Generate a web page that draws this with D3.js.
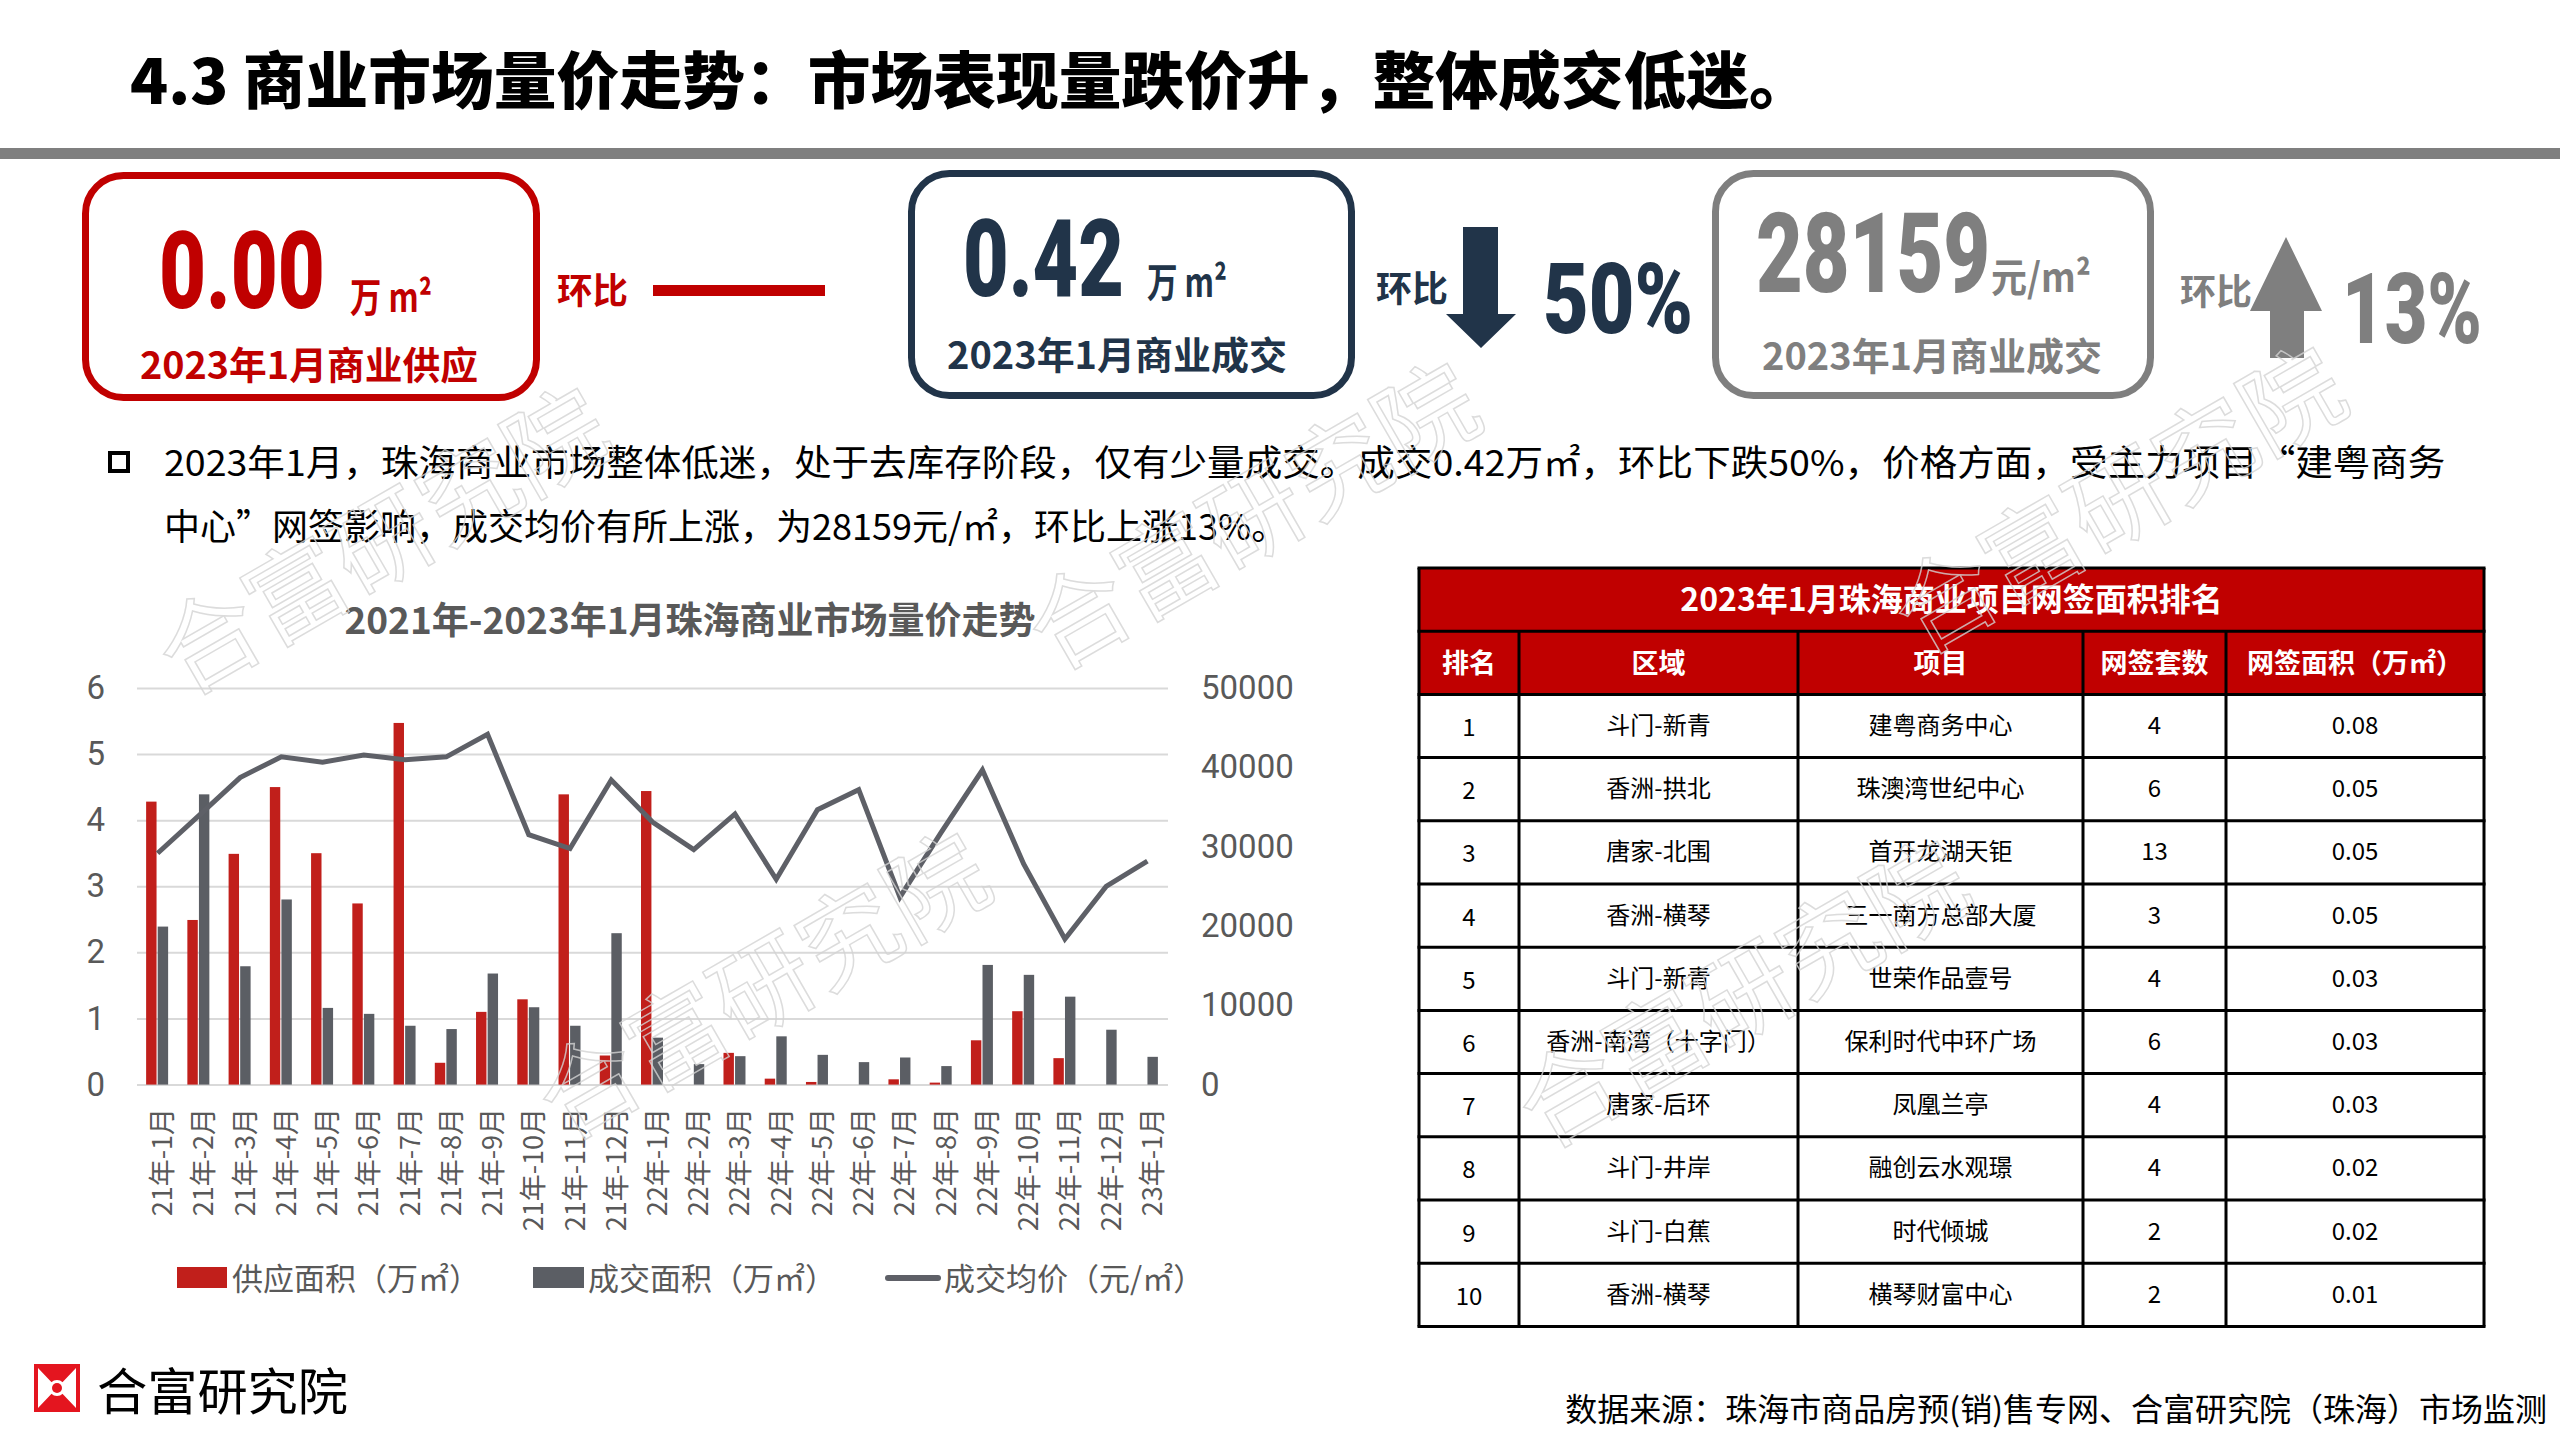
<!DOCTYPE html>
<html><head><meta charset="utf-8">
<script src="https://cdn.jsdelivr.net/npm/d3@7"></script>
<style>html,body{margin:0;padding:0;background:#fff;} svg{display:block;}</style>
</head><body>
<svg id="c" width="2560" height="1440"></svg>
<script>
// ---------- data ----------
const categories = ["21年-1月","21年-2月","21年-3月","21年-4月","21年-5月","21年-6月","21年-7月","21年-8月","21年-9月","21年-10月","21年-11月","21年-12月",
  "22年-1月","22年-2月","22年-3月","22年-4月","22年-5月","22年-6月","22年-7月","22年-8月","22年-9月","22年-10月","22年-11月","22年-12月","23年-1月"];
const supplyArea = [4.28,2.49,3.49,4.50,3.50,2.74,5.47,0.33,1.10,1.29,4.39,0.44,4.44,0,0.48,0.09,0.04,0,0.08,0.03,0.67,1.11,0.40,0,0];
const dealArea   = [2.39,4.39,1.79,2.80,1.16,1.07,0.89,0.84,1.68,1.17,0.89,2.29,0.71,0.31,0.43,0.73,0.45,0.34,0.41,0.28,1.81,1.66,1.33,0.83,0.42];
const avgPrice   = [29160,33900,38700,41310,40640,41540,40950,41310,44150,31500,29750,38390,33100,29610,34110,25880,34650,37170,23630,31800,39650,27810,18360,24980,28159];
const leftTicks  = [0,1,2,3,4,5,6];
const rightTicks = [0,10000,20000,30000,40000,50000];
const legendLabels = ["供应面积（万㎡）","成交面积（万㎡）","成交均价（元/㎡）"];
const chartTitle = "2021年-2023年1月珠海商业市场量价走势";

const tableTitle   = "2023年1月珠海商业项目网签面积排名";
const tableHeaders = ["排名","区域","项目","网签套数","网签面积（万㎡）"];
const ranks        = [1,2,3,4,5,6,7,8,9,10];
const districts    = ["斗门-新青","香洲-拱北","唐家-北围","香洲-横琴","斗门-新青","香洲-南湾（十字门）","唐家-后环","斗门-井岸","斗门-白蕉","香洲-横琴"];
const projects     = ["建粤商务中心","珠澳湾世纪中心","首开龙湖天钜","三一南方总部大厦","世荣作品壹号","保利时代中环广场","凤凰兰亭","融创云水观璟","时代倾城","横琴财富中心"];
const unitCounts   = [4,6,13,3,4,6,4,4,2,2];
const signedAreas  = ["0.08","0.05","0.05","0.05","0.03","0.03","0.03","0.02","0.02","0.01"];

const pageTitle = "4.3 商业市场量价走势：市场表现量跌价升，整体成交低迷。";
const bulletLines = ["2023年1月，珠海商业市场整体低迷，处于去库存阶段，仅有少量成交。成交0.42万㎡，环比下跌50%，价格方面，受主力项目“建粤商务",
                     "中心”网签影响，成交均价有所上涨，为28159元/㎡，环比上涨13%。"];
const kpiValues = ["0.00","0.42","28159"];
const kpiUnits = ["万 m²","万 m²","元/m²"];
const kpiChanges = ["50%","13%"];
const kpiLabels = ["2023年1月商业供应","2023年1月商业成交","2023年1月商业成交"];
const sourceText = "数据来源：珠海市商品房预(销)售专网、合富研究院（珠海）市场监测";
const brandName = "合富研究院";

// ---------- style ----------
const CJK = "'Noto Sans CJK SC','Noto Sans',sans-serif";
const NUM = "Roboto,'Noto Sans',sans-serif";
const RED = "#C00000", NAVY = "#213449", GRAY = "#7F7F7F";
const BAR_RED = "#C11F1B", BAR_GRAY = "#5B5E64", LINE_GRAY = "#5E6067", AXIS = "#595959";

const svg = d3.select("#c");
svg.append("rect").attr("width",2560).attr("height",1440).attr("fill","#fff");

// text helper: optional exact width via horizontal scale transform
function txt(s,x,y,size,color,opts={}){
  const t = svg.append("text").text(s).attr("font-size",size).attr("fill",color)
    .attr("font-family",opts.family||CJK).attr("font-weight",opts.weight||400);
  if(opts.anchor) t.attr("text-anchor",opts.anchor);
  if(opts.len){
    const natural = t.node().getComputedTextLength() || opts.len;
    t.attr("x",0).attr("y",0).attr("transform",`translate(${x},${y}) scale(${opts.len/natural},1)`);
  } else {
    t.attr("x",x).attr("y",y);
  }
  return t;
}

// ---------- header ----------
txt(pageTitle,130,104,62,"#000",{weight:900,len:1682});
svg.append("rect").attr("x",0).attr("y",148).attr("width",2560).attr("height",11).attr("fill","#7F7F7F");

// ---------- KPI boxes ----------
function box(x,y,w,h,color){
  svg.append("rect").attr("x",x).attr("y",y).attr("width",w).attr("height",h).attr("rx",38).attr("ry",38)
    .attr("fill","none").attr("stroke",color).attr("stroke-width",7);
}
// box 1
box(85.5,175.5,451,222,RED);
txt(kpiValues[0],159,308,108,RED,{weight:900,family:NUM,len:166});
txt(kpiUnits[0],350,312,40,RED,{weight:700,len:82});
txt(kpiLabels[0],140,379,38,RED,{weight:700,len:338});
txt("环比",557,304,36,RED,{weight:700,len:71});
svg.append("rect").attr("x",653).attr("y",285).attr("width",172).attr("height",11).attr("fill",RED);
// box 2
box(911.5,173.5,440,222,NAVY);
txt(kpiValues[1],963,296,107,NAVY,{weight:900,family:NUM,len:161});
txt(kpiUnits[1],1147,297,40,NAVY,{weight:700,len:80});
txt(kpiLabels[1],947,369,38,NAVY,{weight:700,len:340});
txt("环比",1376,302,36,NAVY,{weight:700,len:72});
svg.append("path").attr("d","M1463,227 L1498,227 L1498,314 L1516,314 L1481,348 L1446,314 L1463,314 Z").attr("fill",NAVY);
txt(kpiChanges[0],1543,333,98,NAVY,{weight:900,family:NUM,len:150});
// box 3
box(1715.5,173.5,435,222,GRAY);
txt(kpiValues[2],1756,292,111,GRAY,{weight:900,family:NUM,len:234});
txt(kpiUnits[2],1991,292,40,GRAY,{weight:700,len:100});
txt(kpiLabels[2],1762,370,38,GRAY,{weight:700,len:340});
txt("环比",2180,305,36,GRAY,{weight:700,len:72});
svg.append("path").attr("d","M2286,237 L2322,311 L2304,311 L2304,358 L2270,358 L2270,311 L2250,311 Z").attr("fill",GRAY);
txt(kpiChanges[1],2342,343,98,GRAY,{weight:900,family:NUM,len:140});

// ---------- bullet text ----------
svg.append("rect").attr("x",110).attr("y",453).attr("width",18).attr("height",18)
  .attr("fill","none").attr("stroke","#000").attr("stroke-width",4);
txt(bulletLines[0],164,476,36,"#000",{len:2282});
txt(bulletLines[1],164,540,36,"#000");

// ---------- chart ----------
const plotL = 137, plotR = 1168, y0 = 1084.6, y6 = 687.9;
const x = d3.scaleBand().domain(categories).range([plotL,plotR]).padding(0);
const yL = d3.scaleLinear().domain([0,6]).range([y0,y6]);
const yR = d3.scaleLinear().domain([0,50000]).range([y0,y6]);
const sub = d3.scaleBand().domain(["supply","deal"]).range([-11.5,10.5]).paddingInner(0.1);
const cx = d => x(d) + x.bandwidth()/2;

txt(chartTitle,690,634,37,AXIS,{weight:700,anchor:"middle"});

// gridlines
const grid = svg.append("g").attr("transform",`translate(${plotL},0)`)
  .call(d3.axisLeft(yL).tickValues(leftTicks).tickSize(-(plotR-plotL)).tickFormat(""));
grid.select(".domain").remove();
grid.selectAll("line").attr("stroke","#D9D9D9").attr("stroke-width",2);

// axes labels
const axL = svg.append("g").attr("transform","translate(105,0)")
  .call(d3.axisLeft(yL).tickValues(leftTicks).tickSize(0).tickPadding(0).tickFormat(d3.format("d")));
axL.select(".domain").remove();
axL.selectAll("text").style("font-family",NUM).style("font-size","33px").attr("fill",AXIS);
const axR = svg.append("g").attr("transform","translate(1201,0)")
  .call(d3.axisRight(yR).tickValues(rightTicks).tickSize(0).tickPadding(0).tickFormat(d3.format("d")));
axR.select(".domain").remove();
axR.selectAll("text").style("font-family",NUM).style("font-size","33px").attr("fill",AXIS);

// bars
svg.append("g").selectAll("rect").data(categories).join("rect")
  .attr("x",d=>cx(d)+sub("supply")).attr("width",sub.bandwidth())
  .attr("y",(d,i)=>yL(supplyArea[i])).attr("height",(d,i)=>yL(0)-yL(supplyArea[i]))
  .attr("fill",BAR_RED);
svg.append("g").selectAll("rect").data(categories).join("rect")
  .attr("x",d=>cx(d)+sub("deal")).attr("width",sub.bandwidth())
  .attr("y",(d,i)=>yL(dealArea[i])).attr("height",(d,i)=>yL(0)-yL(dealArea[i]))
  .attr("fill",BAR_GRAY);
// line
svg.append("path").datum(avgPrice)
  .attr("d",d3.line().x((d,i)=>cx(categories[i])).y(d=>yR(d)))
  .attr("fill","none").attr("stroke",LINE_GRAY).attr("stroke-width",5).attr("stroke-linejoin","miter");

// x labels
svg.append("g").selectAll("text").data(categories).join("text")
  .text(d=>d)
  .attr("transform",d=>`translate(${cx(d)+3},1108) rotate(-90)`)
  .attr("text-anchor","end").attr("dominant-baseline","central")
  .attr("font-family",CJK).attr("font-size",27).attr("fill",AXIS);

// legend
const lg = svg.append("g");
lg.append("rect").attr("x",177).attr("y",1267).attr("width",50).attr("height",21).attr("fill",BAR_RED);
lg.append("rect").attr("x",533).attr("y",1267).attr("width",51).attr("height",21).attr("fill",BAR_GRAY);
lg.append("line").attr("x1",888).attr("x2",938).attr("y1",1278).attr("y2",1278)
  .attr("stroke",LINE_GRAY).attr("stroke-width",6).attr("stroke-linecap","round");
[[232,legendLabels[0]],[588,legendLabels[1]],[944,legendLabels[2]]].forEach(([lx,s])=>{
  lg.append("text").text(s).attr("x",lx).attr("y",1290).attr("font-family",CJK).attr("font-size",31).attr("fill",AXIS);
});

// ---------- table ----------
const cols = [1419,1519,1798,2083,2226,2484];
const tTop = 568, rowH = 63.2;
const tb = svg.append("g");
tb.append("rect").attr("x",cols[0]).attr("y",tTop).attr("width",cols[5]-cols[0]).attr("height",rowH*2).attr("fill",RED);
tb.append("text").text(tableTitle).attr("x",(cols[0]+cols[5])/2).attr("y",tTop+rowH/2+11)
  .attr("text-anchor","middle").attr("font-family",CJK).attr("font-weight",700).attr("font-size",32).attr("fill","#fff");
tableHeaders.forEach((h,j)=>{
  tb.append("text").text(h).attr("x",(cols[j]+cols[j+1])/2).attr("y",tTop+rowH*1.5+10)
    .attr("text-anchor","middle").attr("font-family",CJK).attr("font-weight",700).attr("font-size",27).attr("fill","#fff");
});
const rows = ranks.map((r,i)=>[r,districts[i],projects[i],unitCounts[i],signedAreas[i]]);
rows.forEach((row,i)=>{
  const yc = tTop + rowH*(2+i) + rowH/2;
  row.forEach((v,j)=>{
    tb.append("text").text(v).attr("x",(cols[j]+cols[j+1])/2).attr("y",yc+ (j===0?10:8))
      .attr("text-anchor","middle").attr("font-family",CJK).attr("font-size",24).attr("fill","#000");
  });
});
for(let k=0;k<=12;k++){
  tb.append("line").attr("x1",cols[0]-1.5).attr("x2",cols[5]+1.5).attr("y1",tTop+rowH*k).attr("y2",tTop+rowH*k)
    .attr("stroke","#000").attr("stroke-width",3);
}
cols.forEach((c,j)=>{
  const top = (j===0||j===5) ? tTop : tTop+rowH;
  tb.append("line").attr("x1",c).attr("x2",c).attr("y1",top).attr("y2",tTop+rowH*12).attr("stroke","#000").attr("stroke-width",3);
});

// ---------- footer ----------
const lgx=34, lgy=1364, lw=46, lh=48;
svg.append("rect").attr("x",lgx).attr("y",lgy).attr("width",lw).attr("height",lh).attr("fill","#E4151F");
svg.append("path").attr("d",`M${lgx+4},${lgy+4} L${lgx+lw/2},${lgy+lh/2} L${lgx+4},${lgy+lh-4} Z M${lgx+lw-4},${lgy+4} L${lgx+lw/2},${lgy+lh/2} L${lgx+lw-4},${lgy+lh-4} Z`).attr("fill","#fff");
svg.append("circle").attr("cx",lgx+lw/2).attr("cy",lgy+lh/2).attr("r",8).attr("fill","#fff");
svg.append("circle").attr("cx",lgx+lw/2).attr("cy",lgy+lh/2).attr("r",5).attr("fill","#E4151F");
txt(brandName,97,1410,50,"#000",{len:251});
txt(sourceText,2547,1421,32,"#000",{anchor:"end"});

// ---------- watermark ----------
const wm = [[379,535],[1249,510],[2115,494],[759,980],[1739,988]];
wm.forEach(([wx,wy])=>{
  svg.append("text").text(brandName).attr("transform",`translate(${wx},${wy}) rotate(-30)`)
    .attr("text-anchor","middle").attr("dominant-baseline","central")
    .attr("font-family",CJK).attr("font-size",100).attr("fill","none")
    .attr("stroke","#D4D4D4").attr("stroke-width",1.5).attr("opacity",0.8);
});
</script>
</body></html>
